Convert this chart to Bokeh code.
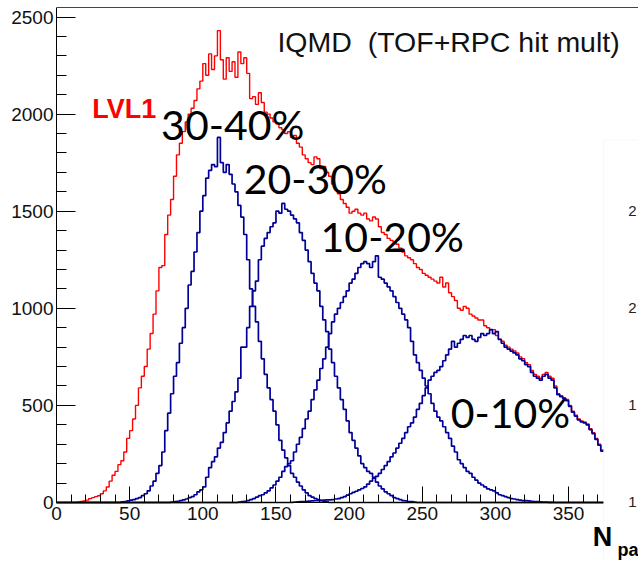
from bokeh.plotting import figure
from bokeh.models import (Range1d, SingleIntervalTicker, LinearAxis, FixedTicker,
                          Label, BoxAnnotation)
from bokeh.embed import file_html
from bokeh.resources import INLINE

# ---------------- data (bin width 2) ----------
BIN = 2
X_MIN, X_MAX = 0, 374
Y_TOP = 2549

lvl1_start = 14
lvl1 = [2, 5, 8, 12, 20, 25, 30, 35, 45, 60, 80, 110, 140, 160, 195, 215, 260, 330,
        370, 430, 500, 590, 650, 700, 790, 870, 970, 1090, 1210, 1220, 1380, 1480,
        1560, 1680, 1790, 1850, 1910, 1960, 2000, 2030, 2070, 2130, 2170, 2260, 2200,
        2310, 2230, 2300, 2430, 2280, 2180, 2290, 2220, 2270, 2190, 2320, 2260, 2290,
        2210, 2080, 2090, 2050, 2110, 2060, 2010, 2000, 1980, 1960, 1950, 1930, 1920,
        1900, 1910, 1880, 1890, 1850, 1830, 1790, 1770, 1750, 1740, 1780, 1770, 1720,
        1730, 1700, 1680, 1640, 1610, 1590, 1560, 1540, 1520, 1490, 1500, 1510, 1490,
        1480, 1490, 1460, 1450, 1470, 1460, 1420, 1390, 1380, 1360, 1350, 1340, 1330,
        1310, 1290, 1270, 1260, 1250, 1230, 1210, 1200, 1180, 1170, 1160, 1150, 1140,
        1130, 1160, 1110, 1130, 1080, 1060, 1040, 1000, 990, 1010, 1000, 970, 960, 950,
        940, 940, 910, 900, 890, 890, 860, 840, 830, 810, 800, 790, 780, 770, 750, 740,
        720, 710, 680, 660, 650, 640, 660, 670, 650, 640, 600, 560, 550, 540, 530, 500,
        470, 450, 430, 420, 415, 405, 380, 360, 330, 300, 270]

c3040_start = 44
c3040 = [3, 5, 8, 12, 15, 20, 25, 35, 45, 60, 85, 110, 150, 190, 260, 370, 460, 560,
         650, 720, 820, 900, 1000, 1120, 1190, 1290, 1390, 1500, 1580, 1670, 1710,
         1740, 1730, 1880, 1750, 1700, 1740, 1690, 1640, 1600, 1530, 1470, 1380, 1250,
         1100, 1010, 930, 830, 740, 660, 590, 530, 470, 400, 320, 270, 230, 190, 150,
         130, 105, 85, 65, 50, 35, 28, 20, 15, 10, 6, 3]

c2030_start = 78
c2030 = [2, 4, 6, 10, 14, 18, 25, 30, 40, 55, 65, 80, 130, 180, 210, 235, 280, 310,
         360, 410, 470, 520, 570, 640, 800, 800, 900, 1010, 1090, 1140, 1250, 1320,
         1360, 1390, 1420, 1440, 1500, 1490, 1540, 1510, 1500, 1480, 1460, 1440, 1390,
         1350, 1300, 1240, 1180, 1130, 1090, 1010, 940, 880, 790, 720, 650, 590, 530,
         480, 420, 360, 320, 280, 240, 200, 180, 160, 150, 130, 105, 85, 70, 55, 45,
         35, 25, 20, 15, 10, 8, 5, 4, 2]

c1020_start = 124
c1020 = [2, 4, 6, 10, 15, 20, 28, 35, 40, 50, 60, 75, 90, 110, 130, 160, 185, 200,
         215, 260, 300, 335, 380, 430, 470, 530, 580, 630, 690, 740, 800, 870, 930,
         970, 1000, 1030, 1060, 1090, 1130, 1150, 1180, 1210, 1230, 1240, 1230, 1210,
         1240, 1270, 1160, 1150, 1130, 1110, 1090, 1060, 1030, 1000, 970, 940, 900,
         830, 760, 720, 680, 640, 600, 560, 510, 470, 440, 420, 390, 360, 330, 290,
         260, 220, 200, 180, 160, 150, 130, 115, 100, 90, 80, 70, 65, 60, 50, 40, 35,
         30, 25, 20, 18, 15, 12, 10, 10, 8, 6, 5, 4, 3, 2, 2, 1, 1]

c0010_start = 160
c0010 = [1, 2, 3, 4, 5, 6, 7, 8, 9, 10, 11, 12, 13, 14, 15, 18, 20, 25, 30, 38, 45,
         52, 58, 65, 72, 80, 95, 110, 125, 135, 150, 170, 190, 210, 235, 255, 280, 305,
         330, 360, 390, 410, 440, 480, 510, 550, 590, 630, 650, 670, 680, 700, 730,
         760, 790, 830, 800, 820, 840, 860, 850, 860, 840, 830, 850, 870, 860, 870,
         890, 870, 880, 840, 820, 800, 790, 780, 770, 760, 740, 730, 710, 700, 670,
         650, 640, 630, 650, 660, 640, 630, 590, 555, 545, 535, 525, 495, 465, 445,
         425, 415, 410, 400, 375, 355, 325, 295, 265]

labels_pct = ["30-40%", "20-30%", "10-20%", "0-10%"]
title_text = "IQMD\u00a0\u00a0(TOF+RPC hit mult)"
lvl1_text = "LVL1"
side_ticks = ["2", "2", "1", "1"]
side_tick_vals = [1500, 1000, 500, 0]

RED = "#ff0000"
BLUE = "#000099"


def step_path(start, vals, full_base=False, cut=False):
    xs = [start] + [start + BIN * i for i in range(len(vals) + 1)]
    ys = [0] + list(vals) + [vals[-1] if cut else 0]
    if full_base:
        xs = [X_MIN] + xs
        ys = [0] + ys
        if not cut:
            xs = xs + [X_MAX]
            ys = ys + [0]
    return xs, ys


p = figure(width=638, height=562, output_backend="svg", toolbar_location=None,
           x_range=Range1d(-38.28, 397.8), y_range=Range1d(-309, Y_TOP),
           min_border_left=0, min_border_right=0, min_border_top=7,
           min_border_bottom=0)
p.outline_line_color = None
p.grid.visible = False
p.background_fill_color = "white"
p.border_fill_color = "white"

xs, ys = step_path(lvl1_start, lvl1, cut=True)
p.step(xs, ys, mode="after", line_color=RED, line_width=1.4)

for st, vals, cut in [(c3040_start, c3040, False), (c2030_start, c2030, False),
                      (c1020_start, c1020, False), (c0010_start, c0010, True)]:
    xs, ys = step_path(st, vals, full_base=True, cut=cut)
    p.step(xs, ys, mode="after", line_color=BLUE, line_width=1.7)

# axes (ROOT style: ticks inside)
for ax in (p.xaxis[0], p.yaxis[0]):
    ax.major_tick_out = 0
    ax.minor_tick_out = 0
    ax.axis_line_color = "black"
    ax.major_tick_line_color = "black"
    ax.minor_tick_line_color = "black"
    ax.major_label_text_font = "Liberation Sans"
    ax.major_label_text_font_size = "19px"
    ax.major_label_text_color = "#111111"

p.xaxis.ticker = SingleIntervalTicker(interval=50, num_minor_ticks=5)
p.xaxis.bounds = (X_MIN, X_MAX)
p.xaxis.fixed_location = 0
p.xaxis.major_tick_in = 16
p.xaxis.minor_tick_in = 8
p.xaxis.major_label_standoff = 5

p.yaxis.ticker = SingleIntervalTicker(interval=500, num_minor_ticks=5)
p.yaxis.bounds = (0, Y_TOP)
p.yaxis.fixed_location = 0
p.yaxis.major_tick_in = 19
p.yaxis.minor_tick_in = 10
p.yaxis.major_label_standoff = 3

top = LinearAxis(ticker=FixedTicker(ticks=[]), major_label_text_font_size="0px",
                 major_tick_in=0, major_tick_out=0, minor_tick_in=0, minor_tick_out=0,
                 major_label_standoff=0, axis_line_color="#444444", bounds=(0, 397.8))
p.add_layout(top, "above")

# overlay of the neighbouring picture on the right
p.add_layout(BoxAnnotation(left=X_MAX, top=1867, fill_color="white", fill_alpha=1.0,
                           line_color="#e8e8e8", line_width=1))

# texts (anchored at their vertical middle)
p.add_layout(Label(x=151, y=2371, text=title_text, text_font="Liberation Sans",
                   text_font_size="28.5px", text_color="#111111",
                   text_baseline="middle"))
p.add_layout(Label(x=24.5, y=2026, text=lvl1_text, text_font="Liberation Sans",
                   text_font_style="bold", text_font_size="27px", text_color=RED,
                   text_baseline="middle"))
pct_pos = [(71.5, 1949), (128, 1666), (180.5, 1372), (269.5, 463)]
for t, (x, y) in zip(labels_pct, pct_pos):
    p.add_layout(Label(x=x, y=y, text=t, text_font="Lato", text_font_size="41px",
                       text_color="black", text_baseline="middle"))

# pieces of the neighbouring plot at the right edge
for t, y in zip(side_ticks, side_tick_vals):
    p.add_layout(Label(x=390.8, y=y, text=t, text_font="Liberation Sans",
                       text_font_size="15px", text_color="#222222",
                       text_baseline="middle"))
p.add_layout(Label(x=366.5, y=-177, text="N", text_font="Liberation Sans",
                   text_font_style="bold", text_font_size="27px", text_color="black",
                   text_baseline="middle"))
p.add_layout(Label(x=383.5, y=-243, text="pa", text_font="Liberation Sans",
                   text_font_style="bold", text_font_size="18px", text_color="black",
                   text_baseline="middle"))

open("out.html", "w").write(file_html(p, INLINE))
